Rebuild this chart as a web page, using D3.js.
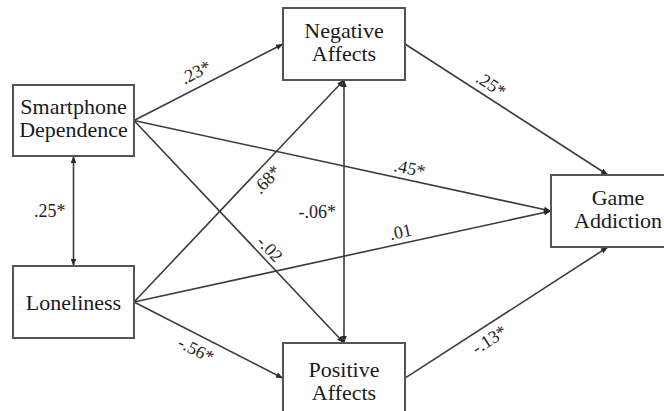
<!DOCTYPE html>
<html>
<head>
<meta charset="utf-8">
<script src="https://cdn.jsdelivr.net/npm/d3@7"></script>
<style>
  html, body { margin: 0; padding: 0; background: #fff; }
  svg { display: block; }
</style>
</head>
<body>
<svg id="chart" width="664" height="411"></svg>
<script>
// ---- data ----
const nodeIds = ["SD", "NA", "LO", "PA", "GA"];
const nodeLabels = [["Smartphone", "Dependence"], ["Negative", "Affects"], ["Loneliness"], ["Positive", "Affects"], ["Game", "Addiction"]];

// path coefficients
const edgeFrom   = ["SD", "SD", "SD", "SD", "LO", "LO", "LO", "NA", "NA", "PA"];
const edgeTo     = ["NA", "GA", "PA", "LO", "NA", "GA", "PA", "PA", "GA", "GA"];
const edgeLabels = [".23*", ".45*", "-.02", ".25*", ".68*", ".01", "-.56*", "-.06*", ".25*", "-.13*"];
const edgeTwoWay = [false, false, false, true, false, false, false, true, false, false];

// ---- layout (positions / styles) ----
const layout = {
  SD: {x: 13,  y: 85,  w: 121, h: 71},
  NA: {x: 283, y: 8,   w: 122, h: 72},
  LO: {x: 13,  y: 266, w: 121, h: 72},
  PA: {x: 283, y: 343, w: 122, h: 80},
  GA: {x: 551, y: 175, w: 134, h: 72}
};
// [fromSide, fromFrac, toSide, toFrac, labelT, labelOffset]
const edgeGeom = [
  ["right", 0.5, "left", 0.5, 0.46, -15],
  ["right", 0.5, "left", 0.5, 0.655, -12],
  ["right", 0.5, "top", 0.5, 0.61, -11],
  ["bottom", 0.5, "top", 0.5, null, null],
  ["right", 0.5, "bottom", 0.5, 0.59, 12],
  ["right", 0.5, "left", 0.5, 0.645, -12],
  ["right", 0.5, "left", 0.44, 0.46, 14],
  ["bottom", 0.5, "top", 0.5, null, null],
  ["right", 0.5, "top", 0.425, 0.39, -13],
  ["right", 0.44, "bottom", 0.425, 0.38, 13]
];

const svg = d3.select("#chart");
const lineColor = "#3c3c3c";
const fontFam = "Liberation Serif";

const defs = svg.append("defs");
defs.append("marker")
  .attr("id", "arrow")
  .attr("viewBox", "0 0 10 10")
  .attr("refX", 10).attr("refY", 5)
  .attr("markerWidth", 9).attr("markerHeight", 7)
  .attr("markerUnits", "userSpaceOnUse")
  .attr("orient", "auto-start-reverse")
  .append("path").attr("d", "M0,1 L10,5 L0,9 z").attr("fill", "#2a2a2a");

function anchor(id, side, frac) {
  const b = layout[id];
  if (side === "right") return [b.x + b.w, b.y + b.h * frac];
  if (side === "left") return [b.x, b.y + b.h * frac];
  if (side === "top") return [b.x + b.w * frac, b.y];
  return [b.x + b.w * frac, b.y + b.h];
}

const gEdges = svg.append("g");
const gLabels = svg.append("g");

edgeFrom.forEach((f, i) => {
  const g = edgeGeom[i];
  const p0 = anchor(f, g[0], g[1]);
  const p1 = anchor(edgeTo[i], g[2], g[3]);
  const line = d3.line();
  gEdges.append("path")
    .attr("d", line([p0, p1]))
    .attr("fill", "none")
    .attr("stroke", lineColor)
    .attr("stroke-width", 1.6)
    .attr("marker-end", "url(#arrow)")
    .attr("marker-start", edgeTwoWay[i] ? "url(#arrow)" : null);

  if (g[4] === null) {
    const mx = p0[0], my = (p0[1] + p1[1]) / 2;
    gLabels.append("text")
      .attr("x", mx - 8).attr("y", my + 6)
      .attr("text-anchor", "end")
      .attr("font-family", fontFam)
      .attr("font-size", 18)
      .attr("fill", "#222")
      .text(edgeLabels[i]);
  } else {
    const t = g[4];
    const px = p0[0] + (p1[0] - p0[0]) * t;
    const py = p0[1] + (p1[1] - p0[1]) * t;
    let a = Math.atan2(p1[1] - p0[1], p1[0] - p0[0]);
    if (a > Math.PI / 2) a -= Math.PI;
    if (a < -Math.PI / 2) a += Math.PI;
    const off = g[5];
    const cx = px + (-Math.sin(a)) * off;
    const cy = py + Math.cos(a) * off;
    gLabels.append("text")
      .attr("transform", `translate(${cx},${cy}) rotate(${a * 180 / Math.PI})`)
      .attr("text-anchor", "middle")
      .attr("dy", "0.35em")
      .attr("font-family", fontFam)
      .attr("font-size", 18)
      .attr("fill", "#222")
      .text(edgeLabels[i]);
  }
});

const gNodes = svg.append("g");
nodeIds.forEach((id, i) => {
  const b = layout[id];
  gNodes.append("rect")
    .attr("x", b.x).attr("y", b.y).attr("width", b.w).attr("height", b.h)
    .attr("fill", "#fff").attr("stroke", "#555").attr("stroke-width", 2);
  const lines = nodeLabels[i];
  const n = lines.length;
  const cx = b.x + b.w / 2;
  const cy = id === "PA" ? b.y + 40 : b.y + b.h / 2;
  lines.forEach((s, j) => {
    gNodes.append("text")
      .attr("x", cx)
      .attr("y", cy + (j - (n - 1) / 2) * 23 + (n === 1 ? 8 : 5))
      .attr("text-anchor", "middle")
      .attr("font-family", fontFam)
      .attr("font-size", 22)
      .attr("fill", "#1a1a1a")
      .text(s);
  });
});
</script>
</body>
</html>
